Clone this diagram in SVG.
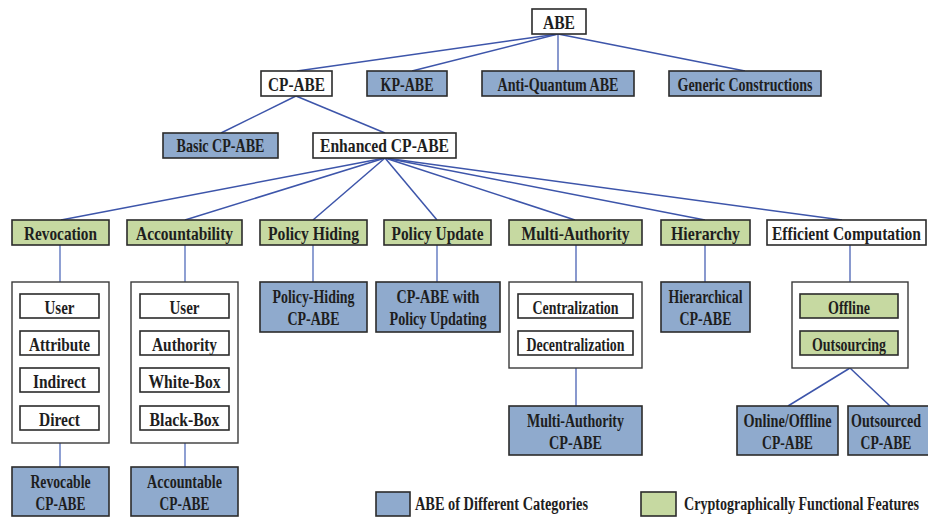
<svg xmlns="http://www.w3.org/2000/svg" width="928" height="517" viewBox="0 0 928 517">
<style>
.w{fill:#ffffff;stroke:#2b2b2b;stroke-width:1.6}
.b{fill:#8faacd;stroke:#2b2b2b;stroke-width:1.6}
.g{fill:#c6d9a1;stroke:#2b2b2b;stroke-width:1.6}
.c{fill:#ffffff;stroke:#3a3a3a;stroke-width:1.4}
text{font-family:"Liberation Serif","Times New Roman",serif;font-weight:bold;font-size:19px;fill:#1e1e1e;text-anchor:middle}
.lg{text-anchor:start;font-size:18px}
.s{stroke:#3d55aa;stroke-width:1.5;fill:none}
.v{stroke:#7b8fcb;stroke-width:1.7;fill:none}
.d{stroke:#4a62b4;stroke-width:1.3;fill:none}
</style>
<g id="connectors">
<line class="s" x1="558" y1="34" x2="297" y2="71"/>
<line class="s" x1="558" y1="34" x2="412" y2="71"/>
<line class="d" x1="558" y1="34" x2="558" y2="71"/>
<line class="s" x1="558" y1="34" x2="745" y2="71"/>
<line class="s" x1="296" y1="96" x2="221" y2="133"/>
<line class="s" x1="296" y1="96" x2="385" y2="133"/>
<line class="s" x1="385" y1="158" x2="61" y2="220"/>
<line class="s" x1="385" y1="158" x2="185" y2="220"/>
<line class="s" x1="385" y1="158" x2="313" y2="220"/>
<line class="s" x1="385" y1="158" x2="437" y2="220"/>
<line class="s" x1="385" y1="158" x2="575" y2="220"/>
<line class="s" x1="385" y1="158" x2="705" y2="220"/>
<line class="s" x1="385" y1="158" x2="842" y2="220"/>
<line class="v" x1="60" y1="245" x2="60" y2="282"/>
<line class="v" x1="60" y1="443" x2="60" y2="467"/>
<line class="v" x1="185" y1="245" x2="185" y2="282"/>
<line class="v" x1="185" y1="443" x2="185" y2="467"/>
<line class="v" x1="313" y1="245" x2="313" y2="282"/>
<line class="v" x1="437" y1="245" x2="437" y2="282"/>
<line class="d" x1="576" y1="245" x2="576" y2="282"/>
<line class="d" x1="576" y1="368" x2="576" y2="406"/>
<line class="d" x1="705" y1="245" x2="705" y2="282"/>
<line class="d" x1="850" y1="245" x2="850" y2="282"/>
<line class="s" x1="850" y1="368" x2="788" y2="406"/>
<line class="s" x1="850" y1="368" x2="890" y2="406"/>
</g>
<g id="abe"><rect class="w" x="532" y="9" width="54" height="25"/><text x="559" y="29" textLength="32" lengthAdjust="spacingAndGlyphs">ABE</text></g>
<g id="cpabe"><rect class="w" x="261" y="71" width="71" height="25"/><text x="296.5" y="91" textLength="57" lengthAdjust="spacingAndGlyphs">CP-ABE</text></g>
<g id="kpabe"><rect class="b" x="367" y="71" width="80" height="25"/><text x="407" y="91" textLength="53" lengthAdjust="spacingAndGlyphs">KP-ABE</text></g>
<g id="antiquantum"><rect class="b" x="482" y="71" width="152" height="25"/><text x="558" y="91" textLength="121" lengthAdjust="spacingAndGlyphs">Anti-Quantum ABE</text></g>
<g id="generic"><rect class="b" x="669" y="71" width="152" height="25"/><text x="745" y="91" textLength="135" lengthAdjust="spacingAndGlyphs">Generic Constructions</text></g>
<g id="basic"><rect class="b" x="163" y="133" width="115" height="25"/><text x="220.5" y="152" textLength="88" lengthAdjust="spacingAndGlyphs">Basic CP-ABE</text></g>
<g id="enhanced"><rect class="w" x="313" y="133" width="143" height="25"/><text x="384.5" y="152" textLength="129" lengthAdjust="spacingAndGlyphs">Enhanced CP-ABE</text></g>
<g id="revocation"><rect class="g" x="12" y="220" width="97" height="25"/><text x="60.5" y="239.5" textLength="73" lengthAdjust="spacingAndGlyphs">Revocation</text></g>
<g id="accountability"><rect class="g" x="127" y="220" width="115" height="25"/><text x="184.5" y="239.5" textLength="97" lengthAdjust="spacingAndGlyphs">Accountability</text></g>
<g id="policyhiding"><rect class="g" x="260" y="220" width="107" height="25"/><text x="313.5" y="239.5" textLength="91" lengthAdjust="spacingAndGlyphs">Policy Hiding</text></g>
<g id="policyupdate"><rect class="g" x="384" y="220" width="107" height="25"/><text x="437.5" y="239.5" textLength="92" lengthAdjust="spacingAndGlyphs">Policy Update</text></g>
<g id="multiauthority"><rect class="g" x="509" y="220" width="133" height="25"/><text x="575.5" y="239.5" textLength="108" lengthAdjust="spacingAndGlyphs">Multi-Authority</text></g>
<g id="hierarchy"><rect class="g" x="661" y="220" width="89" height="25"/><text x="705.5" y="239.5" textLength="69" lengthAdjust="spacingAndGlyphs">Hierarchy</text></g>
<g id="efficient"><rect class="w" x="767" y="220" width="159" height="25"/><text x="846.5" y="239.5" textLength="149" lengthAdjust="spacingAndGlyphs">Efficient Computation</text></g>
<g id="revgroup">
<rect class="c" x="12" y="282" width="97" height="161"/>
<rect class="w" x="20" y="294" width="79" height="24"/><text x="59.5" y="313.5" textLength="30" lengthAdjust="spacingAndGlyphs">User</text>
<rect class="w" x="20" y="331" width="79" height="24"/><text x="59.5" y="350.5" textLength="61" lengthAdjust="spacingAndGlyphs">Attribute</text>
<rect class="w" x="20" y="368" width="79" height="24"/><text x="59.5" y="387.5" textLength="53" lengthAdjust="spacingAndGlyphs">Indirect</text>
<rect class="w" x="20" y="406" width="79" height="24"/><text x="59.5" y="425.5" textLength="41" lengthAdjust="spacingAndGlyphs">Direct</text>
</g>
<g id="accgroup">
<rect class="c" x="131" y="282" width="107" height="161"/>
<rect class="w" x="140" y="294" width="89" height="24"/><text x="184.5" y="313.5" textLength="30" lengthAdjust="spacingAndGlyphs">User</text>
<rect class="w" x="140" y="331" width="89" height="24"/><text x="184.5" y="350.5" textLength="65" lengthAdjust="spacingAndGlyphs">Authority</text>
<rect class="w" x="140" y="368" width="89" height="24"/><text x="184.5" y="387.5" textLength="72" lengthAdjust="spacingAndGlyphs">White-Box</text>
<rect class="w" x="140" y="406" width="89" height="24"/><text x="184.5" y="425.5" textLength="70" lengthAdjust="spacingAndGlyphs">Black-Box</text>
</g>
<g id="policyhidingcpabe"><rect class="b" x="260" y="282" width="107" height="50"/><text x="313.5" y="302.5" textLength="82" lengthAdjust="spacingAndGlyphs">Policy-Hiding</text><text x="313.5" y="325" textLength="52" lengthAdjust="spacingAndGlyphs">CP-ABE</text></g>
<g id="policyupdating"><rect class="b" x="376" y="282" width="124" height="50"/><text x="438" y="302.5" textLength="83" lengthAdjust="spacingAndGlyphs">CP-ABE with</text><text x="438" y="325" textLength="97" lengthAdjust="spacingAndGlyphs">Policy Updating</text></g>
<g id="magroup">
<rect class="c" x="509" y="282" width="133" height="86"/>
<rect class="w" x="518" y="294" width="115" height="24"/><text x="575.5" y="313.5" textLength="86" lengthAdjust="spacingAndGlyphs">Centralization</text>
<rect class="w" x="518" y="331" width="115" height="24"/><text x="575.5" y="350.5" textLength="98" lengthAdjust="spacingAndGlyphs">Decentralization</text>
</g>
<g id="hierarchical"><rect class="b" x="661" y="282" width="89" height="50"/><text x="705.5" y="302.5" textLength="74" lengthAdjust="spacingAndGlyphs">Hierarchical</text><text x="705.5" y="325" textLength="52" lengthAdjust="spacingAndGlyphs">CP-ABE</text></g>
<g id="ecgroup">
<rect class="c" x="792" y="282" width="116" height="86"/>
<rect class="g" x="800" y="294" width="98" height="24"/><text x="849" y="313.5" textLength="42" lengthAdjust="spacingAndGlyphs">Offline</text>
<rect class="g" x="800" y="331" width="98" height="24"/><text x="849" y="350.5" textLength="74" lengthAdjust="spacingAndGlyphs">Outsourcing</text>
</g>
<g id="macpabe"><rect class="b" x="509" y="406" width="133" height="49"/><text x="575.5" y="426.5" textLength="97" lengthAdjust="spacingAndGlyphs">Multi-Authority</text><text x="575.5" y="449" textLength="53" lengthAdjust="spacingAndGlyphs">CP-ABE</text></g>
<g id="onlineoffline"><rect class="b" x="737" y="406" width="101" height="49"/><text x="787.5" y="426.5" textLength="88" lengthAdjust="spacingAndGlyphs">Online/Offline</text><text x="787.5" y="449" textLength="51" lengthAdjust="spacingAndGlyphs">CP-ABE</text></g>
<g id="outsourced"><rect class="b" x="848" y="406" width="85" height="49"/><text x="886" y="426.5" textLength="70" lengthAdjust="spacingAndGlyphs">Outsourced</text><text x="886" y="449" textLength="51" lengthAdjust="spacingAndGlyphs">CP-ABE</text></g>
<g id="revocable"><rect class="b" x="12" y="467" width="97" height="49"/><text x="60.5" y="487.5" textLength="60" lengthAdjust="spacingAndGlyphs">Revocable</text><text x="60.5" y="510" textLength="50" lengthAdjust="spacingAndGlyphs">CP-ABE</text></g>
<g id="accountable"><rect class="b" x="131" y="467" width="107" height="49"/><text x="184.5" y="487.5" textLength="75" lengthAdjust="spacingAndGlyphs">Accountable</text><text x="184.5" y="510" textLength="50" lengthAdjust="spacingAndGlyphs">CP-ABE</text></g>
<g id="legend">
<rect class="b" x="376" y="492" width="34" height="24" stroke-width="1.3"/>
<text class="lg" x="415" y="510" textLength="173" lengthAdjust="spacingAndGlyphs">ABE of Different Categories</text>
<rect class="g" x="641" y="492" width="35" height="24" stroke-width="1.3"/>
<text class="lg" x="684" y="510" textLength="235" lengthAdjust="spacingAndGlyphs">Cryptographically Functional Features</text>
</g>
</svg>
